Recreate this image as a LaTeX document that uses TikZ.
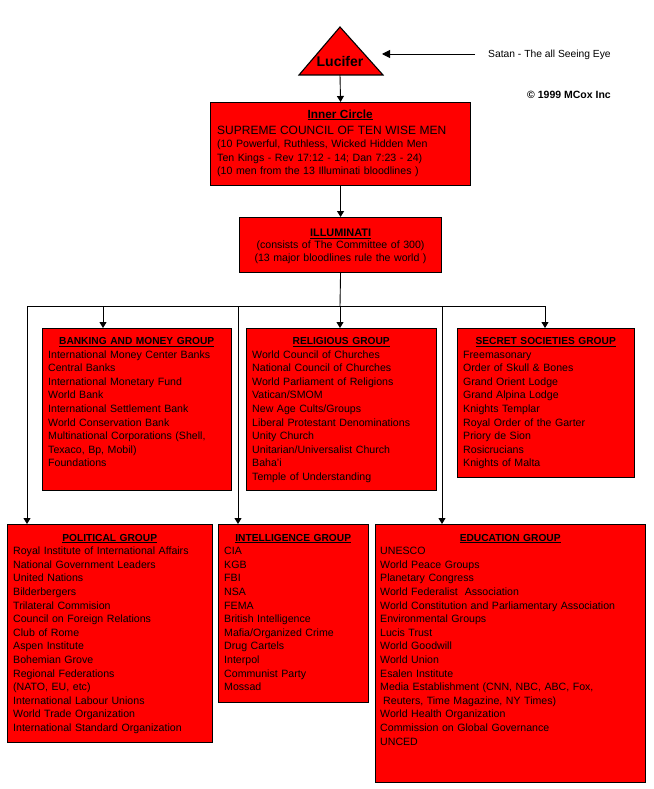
\documentclass[tikz,border=0pt]{standalone}
\usepackage{fontspec}
\setmainfont{Liberation Sans}
\usetikzlibrary{calc}
\usetikzlibrary{arrows.meta}

\tikzset{
  redbox/.style={draw=black, line width=1.1pt, fill=red, anchor=north west, inner sep=0pt},
  boxtext/.style={anchor=base west, inner sep=0pt, align=left, font=\fontsize{10.6}{13.6}\selectfont},
  link/.style={black, line width=0.9pt},
  arr/.style={link, -{Triangle[width=7pt,length=6pt]}},
}
\newcommand{\grouptitle}[1]{{\centering\underline{\textbf{\fontsize{10.2}{13.6}\selectfont #1}}\par}}

\begin{document}
\begin{tikzpicture}[x=1pt, y=-1pt]
\useasboundingbox (0,0) rectangle (653,789);

% the eye on top
\coordinate (apex) at (340,27);
\coordinate (baseL) at (299,75);
\coordinate (baseR) at (383,75);
\coordinate (lucbase) at (340,75);
\coordinate (eye) at (382,54);
\filldraw[fill=red, draw=black, line width=1.1pt] (apex) -- (baseR) -- (baseL) -- cycle;
\node[anchor=base, inner sep=0pt, font=\fontsize{14}{16}\selectfont\bfseries] (lucifer) at (340,66.5) {Lucifer};

\node[anchor=base west, inner sep=0pt, font=\fontsize{10.3}{12}\selectfont] (satan) at (488,58) {Satan - The all Seeing Eye};
\draw[link, -{Triangle[width=8pt,length=8pt]}] ([xshift=-13pt]satan.west |- eye) -- (eye);
\node[anchor=base west, inner sep=0pt, font=\fontsize{10.5}{12}\selectfont\bfseries] (copy) at (527,99) {\textcopyright\ 1999 MCox Inc};

% inner circle and illuminati
\node[redbox, minimum width=260, minimum height=83] (inner) at (210,102) {};
\node[boxtext, text width=246] (innertext) at ($(inner.north west)+(7,16)$) {{\centering\underline{\textbf{\fontsize{11.8}{13.6}\selectfont Inner Circle}}\par}
{\fontsize{12}{16}\selectfont SUPREME COUNCIL OF TEN WISE MEN\par}
(10 Powerful, Ruthless, Wicked Hidden Men\\
Ten Kings - Rev 17:12 - 14; Dan 7:23 - 24)\\
(10 men from the 13 Illuminati bloodlines )};

\node[redbox, minimum width=202, minimum height=55] (illum) at (239,217) {};
\node[boxtext, anchor=base, align=center, text width=190] (illumtext) at ($(illum.north)+(0,19.5)$) {\underline{\textbf{\fontsize{10.9}{13.6}\selectfont ILLUMINATI}}\\[-2pt]
(consists of The Committee of 300)\\
(13 major bloodlines rule the world )};

\draw[arr] (lucbase) -- (inner.north);
\draw[arr] (inner.south) -- (illum.north);

% middle row
\node[redbox, minimum width=189, minimum height=162] (banking) at (42,328) {};
\node[boxtext, text width=177] (bankingtext) at ($(banking.north west)+(6,16.5)$) {\grouptitle{BANKING AND MONEY GROUP}
International Money Center Banks\\
Central Banks\\
International Monetary Fund\\
World Bank\\
International Settlement Bank\\
World Conservation Bank\\
Multinational Corporations (Shell,\\
Texaco, Bp, Mobil)\\
Foundations};

\node[redbox, minimum width=190, minimum height=162] (religious) at (246,328) {};
\node[boxtext, text width=178] (religioustext) at ($(religious.north west)+(6,16.5)$) {\grouptitle{RELIGIOUS GROUP}
World Council of Churches\\
National Council of Churches\\
World Parliament of Religions\\
Vatican/SMOM\\
New Age Cults/Groups\\
Liberal Protestant Denominations\\
Unity Church\\
Unitarian/Universalist Church\\
Baha'i\\
Temple of Understanding};

\node[redbox, minimum width=177, minimum height=149] (secret) at (457,328) {};
\node[boxtext, text width=165] (secrettext) at ($(secret.north west)+(6,16.5)$) {\grouptitle{SECRET SOCIETIES GROUP}
Freemasonary\\
Order of Skull \& Bones\\
Grand Orient Lodge\\
Grand Alpina Lodge\\
Knights Templar\\
Royal Order of the Garter\\
Priory de Sion\\
Rosicrucians\\
Knights of Malta};

% bottom row
\node[redbox, minimum width=205, minimum height=218] (political) at (7,524) {};
\node[boxtext, text width=193] (politicaltext) at ($(political.north west)+(6,17)$) {\grouptitle{POLITICAL GROUP}
Royal Institute of International Affairs\\
National Government Leaders\\
United Nations\\
Bilderbergers\\
Trilateral Commision\\
Council on Foreign Relations\\
Club of Rome\\
Aspen Institute\\
Bohemian Grove\\
Regional Federations\\
(NATO, EU, etc)\\
International Labour Unions\\
World Trade Organization\\
International Standard Organization};

\node[redbox, minimum width=150, minimum height=178] (intel) at (218,524) {};
\node[boxtext, text width=138] (inteltext) at ($(intel.north west)+(6,17)$) {\grouptitle{INTELLIGENCE GROUP}
CIA\\
KGB\\
FBI\\
NSA\\
FEMA\\
British Intelligence\\
Mafia/Organized Crime\\
Drug Cartels\\
Interpol\\
Communist Party\\
Mossad};

\node[redbox, minimum width=270, minimum height=258] (edu) at (375,524) {};
\node[boxtext, text width=260] (edutext) at ($(edu.north west)+(5,17)$) {\grouptitle{EDUCATION GROUP}
UNESCO\\
World Peace Groups\\
Planetary Congress\\
World Federalist~ Association\\
World Constitution and Parliamentary Association\\
Environmental Groups\\
Lucis Trust\\
World Goodwill\\
World Union\\
Esalen Institute\\
Media Establishment (CNN, NBC, ABC, Fox,\\
\hspace*{3pt}Reuters, Time Magazine, NY Times)\\
World Health Organization\\
Commission on Global Governance\\
UNCED};

% the bus under the illuminati
\coordinate (busL) at (27,306);
\coordinate (busR) at (545,306);
\coordinate (busM) at (340,306);
\coordinate (jbank) at (103,306);
\coordinate (jintel) at (238,306);
\coordinate (jedu) at (442,306);
\draw[link] (illum.south) -- (busM);
\draw[link] (busL) -- (busR);
\draw[arr] (jbank) -- (jbank |- banking.north);
\draw[arr] (busM) -- (busM |- religious.north);
\draw[arr] (busR) -- (busR |- secret.north);
\draw[arr] (busL) -- (busL |- political.north);
\draw[arr] (jintel) -- (jintel |- intel.north);
\draw[arr] (jedu) -- (jedu |- edu.north);

\end{tikzpicture}
\end{document}
